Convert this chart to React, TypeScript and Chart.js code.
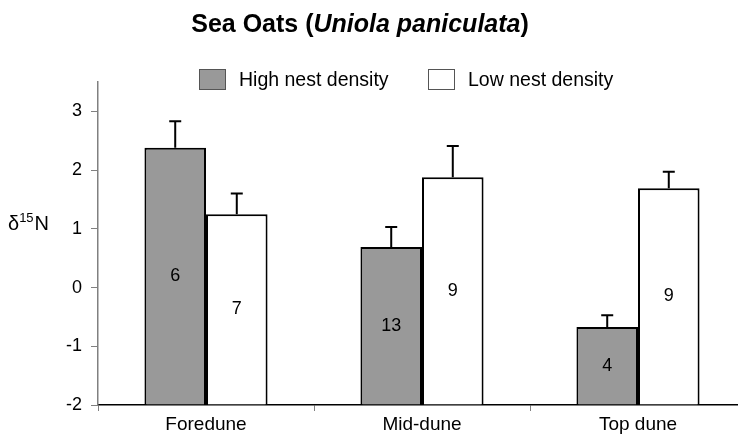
import React, { useEffect, useRef } from "react";
import { Chart, registerables } from "chart.js";

Chart.register(...registerables);

const CATEGORIES = ["Foredune", "Mid-dune", "Top dune"];
const SERIES_NAMES = ["High nest density", "Low nest density"];
const HIGH_MEANS = [2.38, 0.69, -0.67];
const HIGH_SE = [0.45, 0.34, 0.2];
const HIGH_N = [6, 13, 4];
const LOW_MEANS = [1.25, 1.88, 1.69];
const LOW_SE = [0.35, 0.53, 0.28];
const LOW_N = [7, 9, 9];
const Y_TICKS = [-2, -1, 0, 1, 2, 3];
const Y_MIN = -2;
const Y_MAX = 3.5;

const SE = [HIGH_SE, LOW_SE];
const NS = [HIGH_N, LOW_N];
const COLORS = ["#999999", "#ffffff"];
const FONT = '"Liberation Sans", Arial, sans-serif';

const decorations = {
  id: "decorations",
  afterDatasetsDraw(chart: any) {
    const ctx = chart.ctx;
    const y = chart.scales.y;
    ctx.save();
    chart.data.datasets.forEach((ds: any, i: number) => {
      const meta = chart.getDatasetMeta(i);
      meta.data.forEach((bar: any, j: number) => {
        const v = ds.data[j];
        const yTop = y.getPixelForValue(v + SE[i][j]);
        ctx.strokeStyle = "#000";
        ctx.lineWidth = 2;
        ctx.beginPath();
        ctx.moveTo(bar.x, bar.y);
        ctx.lineTo(bar.x, yTop);
        ctx.moveTo(bar.x - 6, yTop);
        ctx.lineTo(bar.x + 6, yTop);
        ctx.stroke();
        ctx.fillStyle = "#000";
        ctx.font = `18px ${FONT}`;
        ctx.textAlign = "center";
        ctx.textBaseline = "middle";
        ctx.fillText(String(NS[i][j]), bar.x, (bar.y + bar.base) / 2);
      });
    });
    ctx.restore();
  },
  afterDraw(chart: any) {
    const ctx = chart.ctx;
    ctx.save();
    // Title
    const p1 = "Sea Oats (";
    const p2 = "Uniola paniculata";
    const p3 = ")";
    const fB = `bold 25px ${FONT}`;
    const fBI = `italic bold 25px ${FONT}`;
    ctx.font = fB;
    const w1 = ctx.measureText(p1).width;
    const w3 = ctx.measureText(p3).width;
    ctx.font = fBI;
    const w2 = ctx.measureText(p2).width;
    let x = 360 - (w1 + w2 + w3) / 2;
    ctx.fillStyle = "#000";
    ctx.textAlign = "left";
    ctx.textBaseline = "alphabetic";
    ctx.font = fB;
    ctx.fillText(p1, x, 32);
    x += w1;
    ctx.font = fBI;
    ctx.fillText(p2, x, 32);
    x += w2;
    ctx.font = fB;
    ctx.fillText(p3, x, 32);

    // Legend
    const legendX = [199, 428];
    chart.data.datasets.forEach((ds: any, i: number) => {
      const bx = legendX[i];
      ctx.fillStyle = ds.backgroundColor;
      ctx.fillRect(bx, 69, 26, 20);
      ctx.strokeStyle = "#555";
      ctx.lineWidth = 1;
      ctx.strokeRect(bx + 0.5, 69.5, 26, 20);
      ctx.fillStyle = "#000";
      ctx.font = `19.5px ${FONT}`;
      ctx.fillText(ds.label, bx + 40, 86);
    });

    // Y axis title δ15N
    ctx.font = `20px ${FONT}`;
    ctx.fillText("δ", 8, 230);
    const wd = ctx.measureText("δ").width;
    ctx.font = `13px ${FONT}`;
    ctx.fillText("15", 8 + wd, 222);
    const w15 = ctx.measureText("15").width;
    ctx.font = `20px ${FONT}`;
    ctx.fillText("N", 8 + wd + w15 + 1, 230);
    ctx.restore();
  },
};

export default function App() {
  const ref = useRef<HTMLCanvasElement>(null);
  useEffect(() => {
    if (!ref.current) return;
    const chart = new Chart(ref.current, {
      type: "bar",
      data: {
        labels: CATEGORIES,
        datasets: [
          {
            label: SERIES_NAMES[0],
            data: HIGH_MEANS,
            backgroundColor: COLORS[0],
            borderColor: "#000",
            borderWidth: 2,
            base: Y_MIN,
            categoryPercentage: 0.57,
            barPercentage: 1,
          } as any,
          {
            label: SERIES_NAMES[1],
            data: LOW_MEANS,
            backgroundColor: COLORS[1],
            borderColor: "#000",
            borderWidth: 2,
            base: Y_MIN,
            categoryPercentage: 0.57,
            barPercentage: 1,
          } as any,
        ],
      },
      options: {
        responsive: false,
        animation: false,
        layout: { padding: { top: 82, right: 14, left: 0, bottom: 0 } },
        plugins: {
          legend: { display: false },
          title: { display: false },
          tooltip: { enabled: false },
        },
        scales: {
          x: {
            type: "category",
            offset: true,
            grid: {
              offset: true,
              drawOnChartArea: false,
              drawTicks: true,
              tickLength: 6,
              color: "#808080",
            },
            border: { color: "#000", width: 1.5 },
            ticks: {
              font: { size: 19, family: FONT },
              color: "#000",
              padding: 2,
              maxRotation: 0,
            },
            afterFit: (s: any) => {
              s.height = 31;
            },
          },
          y: {
            min: Y_MIN,
            max: Y_MAX,
            ticks: {
              stepSize: 1,
              font: { size: 18, family: FONT },
              color: "#000",
              padding: 9,
            },
            afterBuildTicks: (s: any) => {
              s.ticks = Y_TICKS.map((v) => ({ value: v }));
            },
            grid: {
              drawOnChartArea: false,
              drawTicks: true,
              tickLength: 7,
              color: "#808080",
            },
            border: { color: "#808080", width: 1.5 },
            afterFit: (s: any) => {
              s.width = 98;
            },
          },
        },
      },
      plugins: [decorations],
    });
    return () => chart.destroy();
  }, []);
  return (
    <div
      style={{
        position: "fixed",
        left: 0,
        top: 0,
        width: 738,
        height: 436,
        overflow: "hidden",
        background: "#fff",
      }}
    >
      <canvas
        ref={ref}
        width={760}
        height={436}
        style={{ width: 760, height: 436, display: "block" }}
      />
    </div>
  );
}
